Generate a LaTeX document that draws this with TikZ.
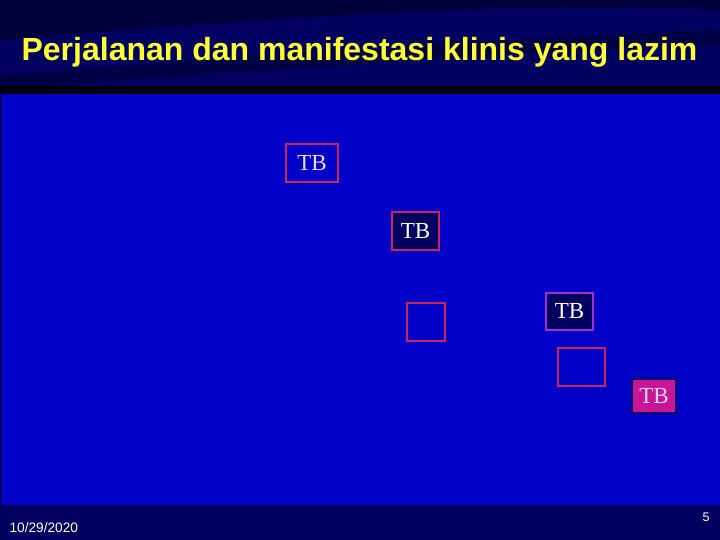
\documentclass[tikz,border=0pt]{standalone}
\usepackage{fontspec}
\setmainfont{Liberation Serif}
\newfontfamily\arialf{Liberation Sans}
\definecolor{navy}{HTML}{000060}
\definecolor{navydark}{HTML}{00003A}
\definecolor{panel}{HTML}{0000C8}
\definecolor{crim}{HTML}{C8235A}
\definecolor{purp}{HTML}{A030C8}
\definecolor{magbox}{HTML}{C81496}
\definecolor{ttl}{HTML}{FFFF33}
\definecolor{lpink}{HTML}{F0D8E8}
\tikzset{
  tbbox/.style={draw=crim, line width=2.2pt, inner sep=0pt, font=\fontsize{23}{23}\selectfont, text=white},
}
\begin{document}
\begin{tikzpicture}[x=1pt,y=-1pt]
\useasboundingbox (0,0) rectangle (720,540);
% background
\fill[navy] (0,0) rectangle (720,540);
\fill[navydark] (0,40) .. controls (250,20) and (500,0) .. (720,10) -- (720,0) -- (0,0) -- cycle;
\fill[navydark!70!navy] (0,75) .. controls (200,60) and (450,40) .. (720,30) -- (720,45) .. controls (450,55) and (200,75) .. (0,90) -- cycle;
\fill[black!85!navy] (0,86) rectangle (720,94);
% panel
\fill[panel] (2,94) rectangle (720,505);
% title
\node[font=\arialf\bfseries\fontsize{32}{32}\selectfont, text=ttl, anchor=base] (title) at (359.5,60.5) {Perjalanan dan manifestasi klinis yang lazim};
% boxes
\node[tbbox, draw=crim, fill=panel, text=lpink, minimum width=52pt, minimum height=38pt] (b1) at (312,163) {TB};
\node[tbbox, draw=crim, fill=navy, minimum width=47pt, minimum height=38pt] (b2) at (415.5,231) {TB};
\node[tbbox, draw=crim, fill=panel, minimum width=38pt, minimum height=38pt] (e1) at (426,322) {};
\node[tbbox, draw=purp, fill=navy, minimum width=47pt, minimum height=37pt] (b3) at (569.5,311.5) {TB};
\node[tbbox, draw=crim, fill=panel, minimum width=47pt, minimum height=38pt] (e2) at (581.5,367) {};
\node[tbbox, draw=navy, fill=magbox, text=lpink, minimum width=44pt, minimum height=34pt] (b4) at (654,396) {TB};
% footer
\node[font=\arialf\fontsize{13.7}{14}\selectfont, text=white, anchor=base west] (date) at (6,532) {10/29/2020};
\node[font=\arialf\fontsize{12.5}{13}\selectfont, text=white, anchor=base east] (page) at (713,521) {5};
\end{tikzpicture}
\end{document}
